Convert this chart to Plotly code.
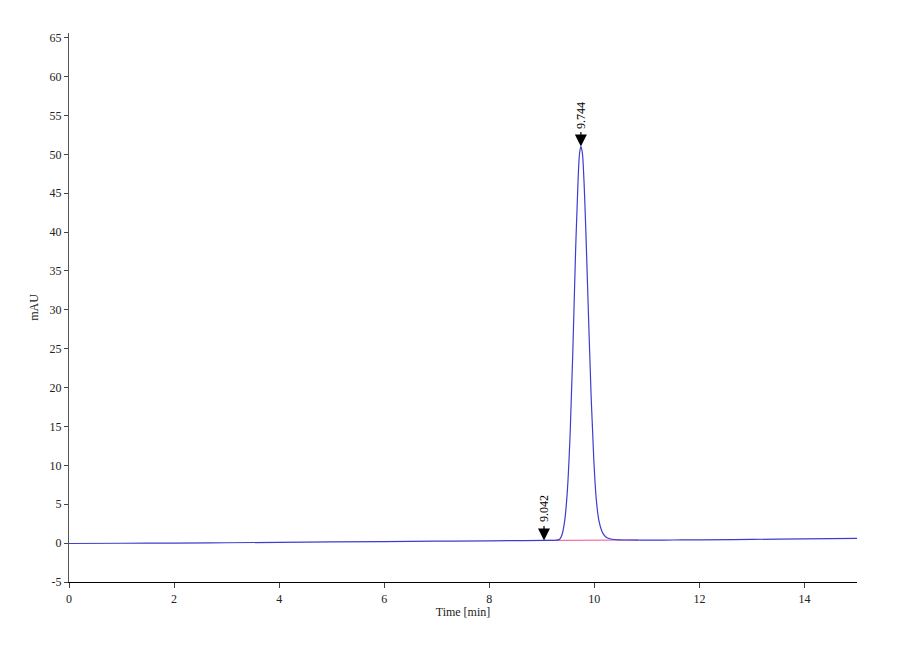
import plotly.graph_objects as go

# chromatogram trace (time in min, signal in mAU)
time_min = [0.0, 1.0, 2.0, 3.0, 4.0, 5.0, 6.0, 7.0, 8.0, 8.6, 9.042, 9.25, 9.34,
            9.39, 9.44, 9.49, 9.54, 9.59, 9.64, 9.69, 9.72, 9.744, 9.77, 9.80,
            9.84, 9.89, 9.94, 9.99, 10.04, 10.09, 10.14, 10.19, 10.24, 10.34,
            10.44, 10.6, 11.0, 11.5, 12.0, 13.0, 14.0, 15.0]
signal_mau = [-0.05, -0.02, 0.0, 0.05, 0.1, 0.15, 0.2, 0.25, 0.3, 0.33, 0.35, 0.37, 0.5,
              1.2, 3.1, 7.1, 14.2, 24.5, 36.8, 46.6, 50.2, 51.0, 50.3, 47.0,
              39.8, 29.0, 18.7, 10.7, 5.4, 2.8, 1.6, 1.0, 0.7, 0.5,
              0.43, 0.4, 0.38, 0.4, 0.42, 0.48, 0.55, 0.6]

# integration baseline under the peak
base_time = [9.042, 10.83]
base_mau = [0.35, 0.4]

# peak labels
peak_time = [9.042, 9.744]
peak_mau = [0.35, 51.0]
peak_text = ["9.042", "9.744"]

x_ticks = [0, 2, 4, 6, 8, 10, 12, 14]
y_ticks = [-5, 0, 5, 10, 15, 20, 25, 30, 35, 40, 45, 50, 55, 60, 65]
y_tick_text = [str(v) for v in y_ticks]

serif = "Liberation Serif, Times New Roman, Times, serif"
font = dict(family=serif, size=12, color="#222")

fig = go.Figure()
fig.add_trace(go.Scatter(x=base_time, y=base_mau, mode="lines",
                         line=dict(color="#e8559a", width=1), showlegend=False))
fig.add_trace(go.Scatter(x=time_min, y=signal_mau, mode="lines", line_shape="spline",
                         line=dict(color="#3d3dd0", width=1.2), showlegend=False))

for t, v, s in zip(peak_time, peak_mau, peak_text):
    # arrow pointing down at the peak
    fig.add_annotation(x=t, y=v, text="", showarrow=True,
                       arrowhead=2, arrowsize=2.0, arrowwidth=1.2, arrowcolor="black",
                       ax=0, ay=-16, standoff=0)
    # rotated retention time above it
    fig.add_annotation(x=t, y=v, text=s, textangle=-90, showarrow=False,
                       xanchor="center", yanchor="bottom", yshift=16,
                       font=dict(family=serif, size=12, color="black"))

fig.update_layout(
    width=900, height=660,
    margin=dict(l=61, r=51, t=25, b=86),
    paper_bgcolor="white", plot_bgcolor="white",
    font=font,
    xaxis=dict(range=[0, 15], tickvals=x_ticks, ticks="outside", ticklen=5,
               showline=True, linecolor="black", linewidth=1.2, showgrid=False,
               zeroline=False, title=dict(text="Time [min]", font=font, standoff=2)),
    yaxis=dict(range=[-5, 65.6], tickvals=y_ticks, ticktext=y_tick_text,
               ticks="outside", ticklen=4, showline=True, linecolor="#555",
               linewidth=1.2, showgrid=False, zeroline=False,
               title=dict(text="mAU", font=font, standoff=8)),
)

fig.write_html("out.html")
